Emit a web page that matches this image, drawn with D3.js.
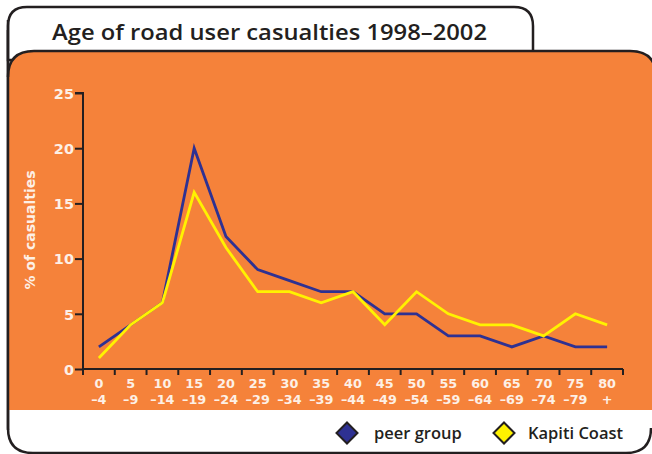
<!DOCTYPE html>
<html><head><meta charset="utf-8">
<script src="https://cdn.jsdelivr.net/npm/d3@7"></script>
<style>
html,body{margin:0;padding:0;background:#fff;}
svg{display:block;}
</style></head>
<body>
<svg id="chart" width="652" height="454"></svg>
<script>
const title = "Age of road user casualties 1998\u20132002";
const yLabel = "% of casualties";
const ageFrom = ["0","5","10","15","20","25","30","35","40","45","50","55","60","65","70","75","80"];
const ageTo = ["\u20134","\u20139","\u201314","\u201319","\u201324","\u201329","\u201334","\u201339","\u201344","\u201349","\u201354","\u201359","\u201364","\u201369","\u201374","\u201379","+"];
const peerGroup = [2,4,6,20,12,9,8,7,7,5,5,3,3,2,3,2,2];
const kapitiCoast = [1,4,6,16,11,7,7,6,7,4,7,5,4,4,3,5,4];
const yTicks = [0,5,10,15,20,25];
const seriesNames = ["peer group","Kapiti Coast"];
const seriesColors = ["#2e3192","#fff200"];

const svg = d3.select("#chart");
const ink = "#231f20";
const orange = "#f5823a";
const light = "#fdf0e6";
const axisFont = "'DejaVu Sans',sans-serif";
const mainFont = "'Open Sans',sans-serif";

// outer frame
svg.append("path")
  .attr("d","M8,30 L8,428 Q8,453 33,453 L626,453 Q651,453 651,428")
  .attr("fill","none").attr("stroke",ink).attr("stroke-width",2.5);
// title tab
svg.append("path")
  .attr("d","M8,60 L8,26 Q8,7 27,7 L514,7 Q533,7 533,26 L533,60 Z")
  .attr("fill","#fff").attr("stroke",ink).attr("stroke-width",2.5);
// orange panel
svg.append("path")
  .attr("d","M8,410 L8,77 Q8,51 34,51 L630,51 Q656,51 656,77 L656,410 Z")
  .attr("fill",orange).attr("stroke","none");
svg.append("path")
  .attr("d","M8,77 Q8,51 34,51 L630,51 Q656,51 656,77")
  .attr("fill","none").attr("stroke",ink).attr("stroke-width",2.5);
svg.append("line").attr("x1",8).attr("x2",8).attr("y1",20).attr("y2",430)
  .attr("stroke",ink).attr("stroke-width",2.5);

svg.append("text").attr("x",52).attr("y",40)
  .style("font-family",mainFont).style("font-size","22px").style("font-weight",600).attr("fill",ink)
  .attr("textLength",435).attr("lengthAdjust","spacingAndGlyphs")
  .text(title);

const pLeft = 83, pRight = 623, pTop = 93, pBottom = 369;
const x = d3.scaleBand().domain(ageFrom).range([pLeft,pRight]).padding(0);
const y = d3.scaleLinear().domain([0,25]).range([pBottom,pTop]);

// y axis
const ya = svg.append("g").attr("transform",`translate(${pLeft},0)`)
  .call(d3.axisLeft(y).tickValues(yTicks).tickSize(8).tickPadding(1));
ya.select(".domain").attr("stroke",ink).attr("stroke-width",2).attr("d",`M-8,${pTop}H0V${pBottom+6}`);
ya.selectAll(".tick line").attr("stroke",ink).attr("stroke-width",2);
ya.selectAll(".tick text").attr("fill",light)
  .style("font-family",axisFont).style("font-size","14.5px").style("font-weight","bold").attr("dy","0.36em");

// x axis
const xa = svg.append("g").attr("transform",`translate(0,${pBottom})`);
xa.append("line").attr("x1",pLeft).attr("x2",pRight).attr("y1",0).attr("y2",0)
  .attr("stroke",ink).attr("stroke-width",2);
const bounds = ageFrom.map(a=>x(a)).concat([pRight]);
xa.selectAll("line.tk").data(bounds).join("line").attr("class","tk")
  .attr("x1",d=>d).attr("x2",d=>d).attr("y1",0).attr("y2",6)
  .attr("stroke",ink).attr("stroke-width",2);
xa.selectAll("text.xl1").data(ageFrom).join("text").attr("class","xl1")
  .attr("text-anchor","middle").attr("fill",light)
  .style("font-family",axisFont).style("font-size","12.8px").style("font-weight","bold")
  .attr("x",d=>x(d)+x.bandwidth()/2).attr("y",19).text(d=>d);
xa.selectAll("text.xl2").data(ageTo).join("text").attr("class","xl2")
  .attr("text-anchor","middle").attr("fill",light)
  .style("font-family",axisFont).style("font-size","12.8px").style("font-weight","bold")
  .attr("x",(d,i)=>x(ageFrom[i])+x.bandwidth()/2).attr("y",35).text(d=>d);

// y label
svg.append("text").attr("transform","translate(35,230) rotate(-90)")
  .attr("text-anchor","middle").attr("fill",light)
  .style("font-family",axisFont).style("font-size","14px").style("font-weight","bold")
  .text(yLabel);

// lines
const line = d3.line().x((d,i)=>x(ageFrom[i])+x.bandwidth()/2).y(d=>y(d));
[peerGroup,kapitiCoast].forEach((s,k)=>{
  svg.append("path").datum(s).attr("d",line).attr("fill","none")
    .attr("stroke",seriesColors[k]).attr("stroke-width",2.8).attr("stroke-linejoin","miter");
});

// legend
const legX = [347,504], legTx = [374,528];
seriesNames.forEach((n,k)=>{
  const g = svg.append("g").attr("transform",`translate(${legX[k]},433)`);
  g.append("path").attr("d","M0,-10.5L10.5,0L0,10.5L-10.5,0Z").attr("fill",seriesColors[k])
    .attr("stroke",ink).attr("stroke-width",2);
  svg.append("text").attr("x",legTx[k]).attr("y",439)
    .style("font-family",mainFont).style("font-size","16.5px").style("font-weight",600)
    .attr("fill",ink).text(n);
});
</script>
</body></html>
